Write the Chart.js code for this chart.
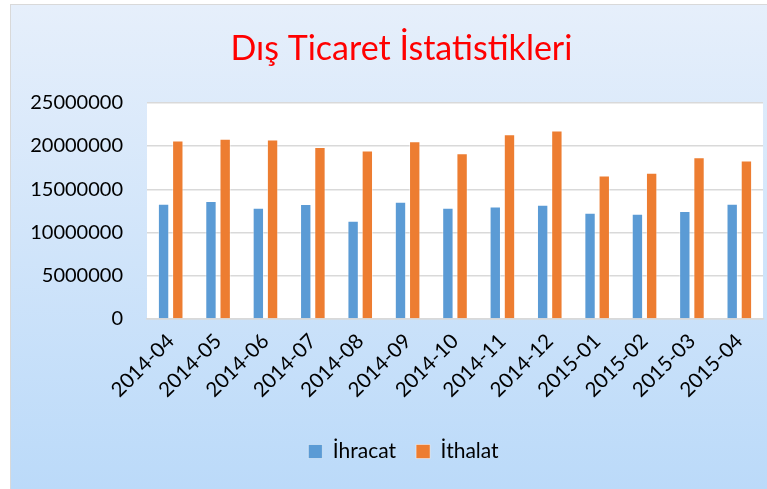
<!DOCTYPE html>
<html>
<head>
<meta charset="utf-8">
<script src="https://cdn.jsdelivr.net/npm/chart.js@4/dist/chart.umd.min.js"></script>
<style>
  html, body { margin: 0; padding: 0; background: #ffffff; width: 767px; height: 489px; overflow: hidden; }
  #frame { position: absolute; left: 10px; top: 4px; width: 800px; height: 520px;
           border: 1px solid #D9D9D9;
           background: linear-gradient(to bottom, #E6EFFB 0px, #BBDAF9 485px); }
  #c { position: absolute; left: 0; top: 0; }
</style>
</head>
<body>
<div id="frame"></div>
<canvas id="c" width="767" height="489"></canvas>
<script>
const categories = ["2014-04","2014-05","2014-06","2014-07","2014-08","2014-09","2014-10","2014-11","2014-12","2015-01","2015-02","2015-03","2015-04"];
const ihracat = [13330000, 13640000, 12870000, 13290000, 11360000, 13560000, 12870000, 13020000, 13210000, 12290000, 12170000, 12480000, 13330000];
const ithalat = [20630000, 20830000, 20750000, 19900000, 19470000, 20560000, 19170000, 21370000, 21790000, 16580000, 16920000, 18700000, 18320000];
const seriesNames = ["İhracat", "İthalat"];
const titleText = "Dış Ticaret İstatistikleri";

const plotBg = {
  id: 'plotBg',
  beforeDraw(chart) {
    const a = chart.chartArea, ctx = chart.ctx;
    ctx.save();
    ctx.fillStyle = '#ffffff';
    ctx.fillRect(a.left, a.top, a.right - a.left, a.bottom - a.top);
    ctx.restore();
  }
};
// title and legend in the reference are centred on the (wider) chart frame, not the visible canvas
const frameCentre = {
  id: 'frameCentre',
  afterLayout(chart) {
    if (chart.legend) { chart.legend.left += 22; chart.legend.right += 22; }
    if (chart.titleBlock) { chart.titleBlock.left += 20; chart.titleBlock.right += 20; }
  }
};

const FONT = 'Lato';
new Chart(document.getElementById('c'), {
  type: 'bar',
  data: {
    labels: categories,
    datasets: [
      { label: seriesNames[0], data: ihracat, backgroundColor: '#5B9BD5', borderColor: 'rgba(255,255,255,0.45)', borderWidth: 1,
        categoryPercentage: 0.6, barPercentage: 0.8 },
      { label: seriesNames[1], data: ithalat, backgroundColor: '#ED7D31', borderColor: 'rgba(255,255,255,0.45)', borderWidth: 1,
        categoryPercentage: 0.6, barPercentage: 0.8 }
    ]
  },
  options: {
    responsive: false,
    animation: false,
    devicePixelRatio: 1,
    layout: { padding: { left: 0, right: 4, top: 0, bottom: 17 } },
    plugins: {
      title: { display: true, text: titleText, color: '#FF0000',
               font: { family: FONT, size: 34, weight: 'normal', lineHeight: 1.2 },
               padding: { top: 29, bottom: 33 } },
      legend: { position: 'bottom',
                labels: { color: '#000000', font: { family: FONT, size: 21 }, boxWidth: 14, boxHeight: 14, padding: 20 } },
      tooltip: { enabled: false }
    },
    scales: {
      x: {
        grid: { display: false, drawTicks: false },
        border: { display: true, color: '#D9D9D9', width: 1.5 },
        ticks: { color: '#000000', font: { family: FONT, size: 20.5 }, minRotation: 45, maxRotation: 45, padding: 10, autoSkip: false },
        afterFit(s) { s.height = 102; }
      },
      y: {
        min: 0, max: 25000000,
        grid: { color: '#D9D9D9', lineWidth: 1.5, drawTicks: false },
        border: { display: false },
        ticks: { stepSize: 5000000, color: '#000000', font: { family: FONT, size: 20 }, padding: 24,
                 callback: v => String(v) },
        afterFit(s) { s.width = 147; }
      }
    }
  },
  plugins: [plotBg, frameCentre]
});
</script>
</body>
</html>
